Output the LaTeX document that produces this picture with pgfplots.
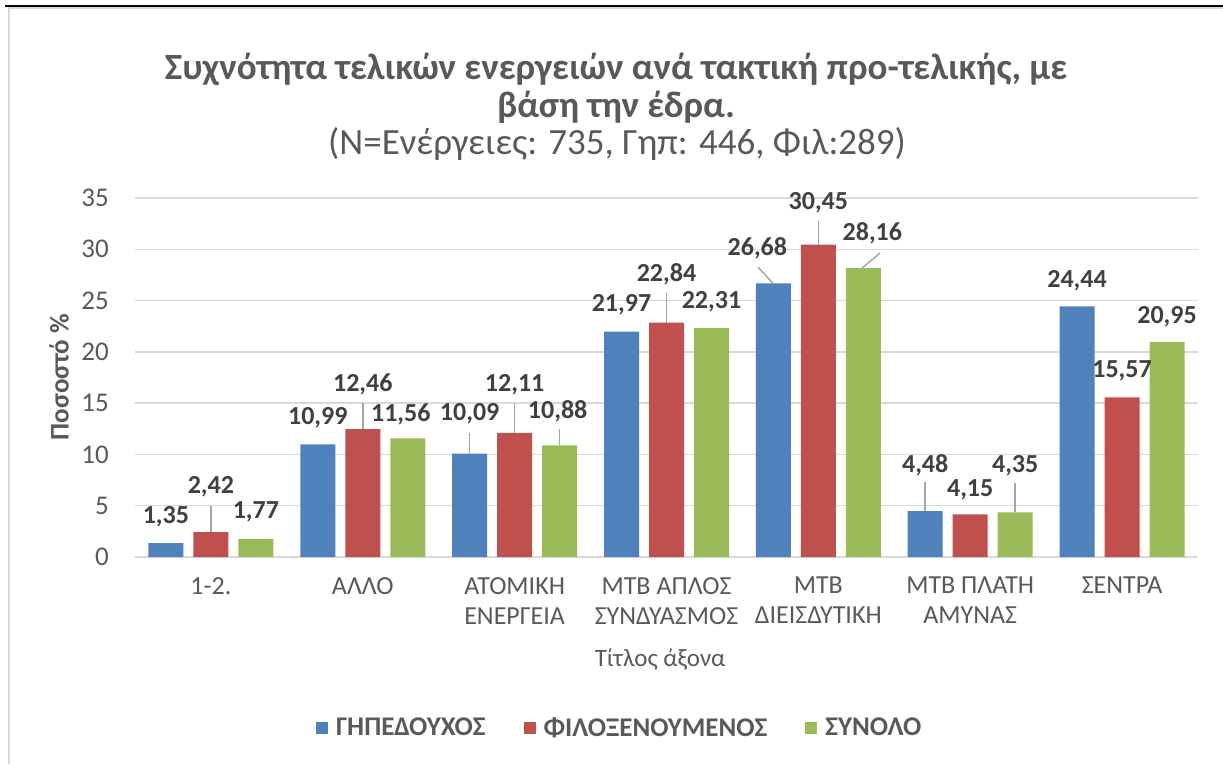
\documentclass[border=0pt]{standalone}
\usepackage{pgfplots}
\usepackage{pgfplotstable}
\pgfplotsset{compat=1.18}
\usepackage{fontspec}
\setmainfont{Carlito}

\definecolor{ghp}{HTML}{4F81BD}
\definecolor{fil}{HTML}{C0504D}
\definecolor{syn}{HTML}{9BBB59}
\definecolor{txt}{HTML}{595959}
\definecolor{lbl}{HTML}{404040}
\definecolor{grd}{HTML}{D9D9D9}
\definecolor{ldr}{HTML}{A6A6A6}

% x = category, y = value, dx/dy = label position relative to the group centre / bar top (pt)
\pgfplotstableread{
x y dx dy
0 1.35 -45 26
1 10.99 -45 27
2 10.09 -45 40
3 21.97 -45 27
4 26.68 -61 35
5 4.48 -45 46
6 24.44 -45 26
}\ghpdata
\pgfplotstableread{
x y dx dy
0 2.42 0 45
1 12.46 0 45
2 12.11 0 48
3 22.84 0 48
4 30.45 0 42
5 4.15 0 25
6 15.57 0 26
}\fildata
\pgfplotstableread{
x y dx dy
0 1.77 45 27
1 11.56 38 24
2 10.88 43 34
3 22.31 45 26
4 28.16 54 35
5 4.35 45 47
6 20.95 45 25
}\syndata

\pgfplotsset{
  barstyle/.style={
    ybar, bar width=35pt, draw=none,
    visualization depends on={\thisrow{dx} \as \dx},
    visualization depends on={\thisrow{dy} \as \dy},
    nodes near coords={\pgfmathprintnumber[fixed, fixed zerofill, precision=2, use comma]{\pgfplotspointmeta}},
    every node near coord/.append style={anchor=center, xshift=\dx pt, yshift=\dy pt,
      font=\fontsize{26}{30}\selectfont\bfseries, text=lbl, inner sep=0pt},
  },
  leader/.style={sharp plot, no marks, ldr, line width=1.5pt, forget plot},
}

\begin{document}
\begin{tikzpicture}
\useasboundingbox (0pt,0pt) rectangle (1223pt,764pt);
\fill[white] (0pt,0pt) rectangle (1223pt,764pt);
\draw[grd, line width=1.5pt] (9pt,0pt) -- (9pt,756pt) -- (1223pt,756pt);
\draw[black, line width=2pt] (5pt,758pt) -- (1223pt,758pt);

\node[anchor=base, font=\fontsize{37}{44}\selectfont\bfseries, text=txt] at (616pt,684pt)
  {Συχνότητα τελικών ενεργειών ανά τακτική προ-τελικής, με};
\node[anchor=base, font=\fontsize{37}{44}\selectfont\bfseries, text=txt] at (616pt,646pt)
  {βάση την έδρα.};
\node[anchor=base, font=\fontsize{37}{44}\selectfont, text=txt] at (617pt,609pt)
  {(N=Ενέργειες: 735, Γηπ: 446, Φιλ:289)};
\node[rotate=90, anchor=center, font=\fontsize{27}{32}\selectfont\bfseries, text=txt] at (59pt,387pt)
  {Ποσοστό \%};

\begin{axis}[
  at={(135pt,207pt)}, anchor=south west,
  scale only axis, width=1063pt, height=359pt,
  xmin=-0.5, xmax=6.5, ymin=0, ymax=35,
  ytick distance=5,
  xtick={0,...,6},
  xticklabels={1-2., ΑΛΛΟ, {ΑΤΟΜΙΚΗ\\ΕΝΕΡΓΕΙΑ}, {ΜΤΒ ΑΠΛΟΣ\\ΣΥΝΔΥΑΣΜΟΣ},
    {ΜΤΒ\\ΔΙΕΙΣΔΥΤΙΚΗ}, {ΜΤΒ ΠΛΑΤΗ\\ΑΜΥΝΑΣ}, ΣΕΝΤΡΑ},
  /pgf/number format/assume math mode=true,
  axis line style={draw=none},
  major tick length=0pt,
  ymajorgrids, grid style={grd, line width=1.5pt},
  yticklabel style={font=\fontsize{27}{32}\selectfont, text=txt, inner sep=0pt, anchor=east, xshift=-26pt},
  xticklabel style={font=\fontsize{26}{30}\selectfont, text=txt, align=center, inner sep=0pt, anchor=north, yshift=-20pt},
  xlabel={Τίτλος άξονα},
  xlabel style={font=\fontsize{25}{30}\selectfont, text=txt, at={(axis description cs:0.494,0)}, anchor=center, yshift=-103pt},
  clip=false,
  legend columns=3,
  legend style={at={(axis description cs:0.456,-0.476)}, anchor=center, draw=none,
    font=\fontsize{27}{32}\selectfont\bfseries, text=txt,
    /tikz/every even column/.append style={column sep=36pt},
    /tikz/every odd column/.append style={column sep=6pt}},
  legend image code/.code={\fill[#1] (0pt,-6pt) rectangle (12pt,6pt);},
]
\addplot[barstyle, fill=ghp, bar shift=-45pt] table[x=x, y=y] {\ghpdata};
\addlegendentry{ΓΗΠΕΔΟΥΧΟΣ}
\addplot[barstyle, fill=fil, bar shift=0pt] table[x=x, y=y] {\fildata};
\addlegendentry{ΦΙΛΟΞΕΝΟΥΜΕΝΟΣ}
\addplot[barstyle, fill=syn, bar shift=45pt] table[x=x, y=y] {\syndata};
\addlegendentry{ΣΥΝΟΛΟ}

% leader lines from moved labels back to their bars
\addplot[leader] coordinates {(0,2.42) (0,4.97)};
\addplot[leader] coordinates {(1,12.46) (1,15.01)};
\addplot[leader] coordinates {(1.7037,10.09) (1.7037,12.09)};
\addplot[leader] coordinates {(2,12.11) (2,15.01)};
\addplot[leader] coordinates {(2.2963,10.88) (2.2963,12.48)};
\addplot[leader] coordinates {(3,22.84) (3,25.74)};
\addplot[leader] coordinates {(3.701,26.68) (3.6025,28.27)};
\addplot[leader] coordinates {(4,30.45) (4,32.76)};
\addplot[leader] coordinates {(4.287,28.16) (4.406,29.64)};
\addplot[leader] coordinates {(4.7037,4.48) (4.7037,7.31)};
\addplot[leader] coordinates {(5.2963,4.35) (5.2963,7.21)};
\end{axis}
\end{tikzpicture}
\end{document}
